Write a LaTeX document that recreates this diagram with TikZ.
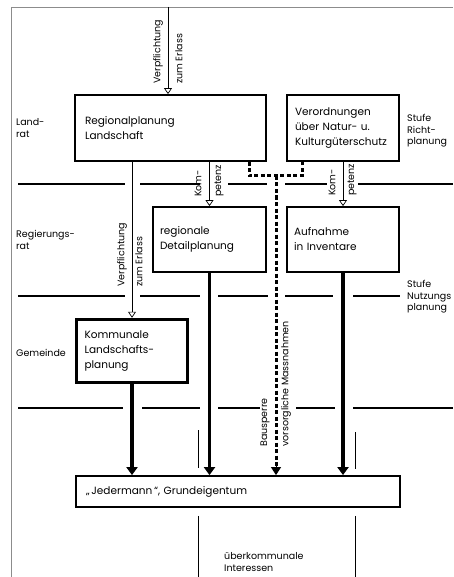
\documentclass[tikz,border=0pt]{standalone}
\usepackage{fontspec}
\setmainfont{Poppins}
\usetikzlibrary{arrows.meta,calc}
\tikzset{
  box/.style={draw, line width=1.8pt, align=left, inner ysep=0pt, font=\fontsize{10.5}{15}\selectfont},
  small/.style={align=left, inner sep=0pt, font=\fontsize{9.5}{11.5}\selectfont},
  vlabel/.style={rotate=90, anchor=west, inner sep=0pt, font=\fontsize{9.5}{10}\selectfont},
  sep/.style={line width=1.2pt},
  frame/.style={line width=0.5pt, black!45},
  thinarrow/.style={line width=0.7pt, -{Triangle[open, length=6pt, width=8pt]}},
  thickarrow/.style={line width=3.5pt, -{Triangle[length=8pt, width=11pt]}},
  dasharrow/.style={line width=3pt, dash pattern=on 4pt off 2.5pt},
  thinline/.style={line width=0.7pt}
}
\begin{document}
\begin{tikzpicture}[x=1pt,y=-1pt]
\useasboundingbox (0,0) rectangle (453,577);
% frame
\draw[frame] (453,7) -- (11,7) -- (11,577);
% separator lines
\foreach \a/\b in {18/125,140/200,228/267,285/327,358/453}
  \draw[sep] (\a,184) -- (\b,184);
\foreach \a/\b in {18/125,140/200,218/268,285/333,353/400}
  \draw[sep] (\a,296) -- (\b,296);
\foreach \a/\b in {18/123,142/200,218/260,296/335,353/453}
  \draw[sep] (\a,408) -- (\b,408);
% boxes
\node[box, minimum width=191pt, minimum height=66pt, inner xsep=10pt, text width=171pt] (reg) at (170.5,128) {Regionalplanung\\Landschaft};
\node[box, minimum width=112pt, minimum height=66pt, inner xsep=8pt, text width=96pt] (ver) at (343,128) {Verordnungen\\über Natur- u.\\Kulturgüterschutz};
\node[box, minimum width=113pt, minimum height=65pt, inner xsep=7pt, text width=99pt] (det) at (209.5,239.5) {regionale\\Detailplanung};
\node[box, minimum width=112pt, minimum height=65pt, inner xsep=7pt, text width=98pt] (auf) at (343,239.5) {Aufnahme\\in Inventare};
\node[box, line width=3.5pt, minimum width=111pt, minimum height=63pt, inner xsep=8pt, text width=95pt] (kom) at (132,351) {Kommunale\\Landschafts-\\planung};
\node[box, minimum width=324pt, minimum height=31pt, inner xsep=10pt, text width=304pt] (jed) at (238,491.5) {„\,Jedermann\,“, Grundeigentum};
% side labels
\node[small, anchor=west] (l1) at (16,128) {Land-\\rat};
\node[small, anchor=west] (l2) at (16,240) {Regierungs-\\rat};
\node[small, anchor=west] (l3) at (16,353) {Gemeinde};
\node[small, anchor=west] (r1) at (407,131) {Stufe\\Richt-\\planung};
\node[small, anchor=west] (r2) at (407,297) {Stufe\\Nutzungs\\planung};
\node[small, anchor=west] (b1) at (224,562) {überkommunale\\Interessen};
% connectors
\coordinate (topin) at (168,7);
\draw[thinarrow] (topin) -- (topin |- reg.north);
\node[vlabel] (t1) at (158,84) {Verpflichtung};
\node[vlabel] (t2) at (179,84) {zum Erlass};
\draw[thinarrow] (kom.north |- reg.south) -- (kom.north);
\node[vlabel] (t3) at (122,287) {Verpflichtung};
\node[vlabel] (t4) at (139,287) {zum Erlass};
\draw[thinarrow] (det.north |- reg.south) -- (det.north);
\node[vlabel] (k1) at (198,197) {Kom-};
\node[vlabel] (k2) at (219,197) {petenz};
\draw[thinarrow] (ver.south) -- (auf.north);
\node[vlabel] (k3) at (332,196) {Kom-};
\node[vlabel] (k4) at (352,196) {petenz};
\draw[thickarrow] (kom.south) -- (kom.south |- jed.north);
\draw[thickarrow] (det.south) -- (det.south |- jed.north);
\draw[thickarrow] (auf.south) -- (auf.south |- jed.north);
\coordinate (dA) at (249,176);
\coordinate (dB) at (302,176);
\coordinate (dM) at (276,176);
\draw[dasharrow] (reg.south -| dA) -- (dA) -- (dB) -- (ver.south -| dB);
\draw[dasharrow] (dM) -- ($(dM |- jed.north)+(0,-8)$);
\draw[line width=1pt, -{Triangle[length=8pt, width=10pt]}] ($(dM |- jed.north)+(0,-9)$) -- (dM |- jed.north);
\node[vlabel] (m1) at (265,447) {Bausperre};
\node[vlabel] (m2) at (286,447) {vorsorgliche Massnahmen};
% thin guide lines
\coordinate (g1) at (198,430);
\coordinate (g2) at (355,432);
\draw[thinline] (g1) -- (198,468);
\draw[thinline] (g2) -- (355,469);
\draw[thinline] (g1 |- jed.south) ++(0,8) -- (198,577);
\draw[thinline] (g2 |- jed.south) ++(0,8) -- (355,577);
\end{tikzpicture}
\end{document}
